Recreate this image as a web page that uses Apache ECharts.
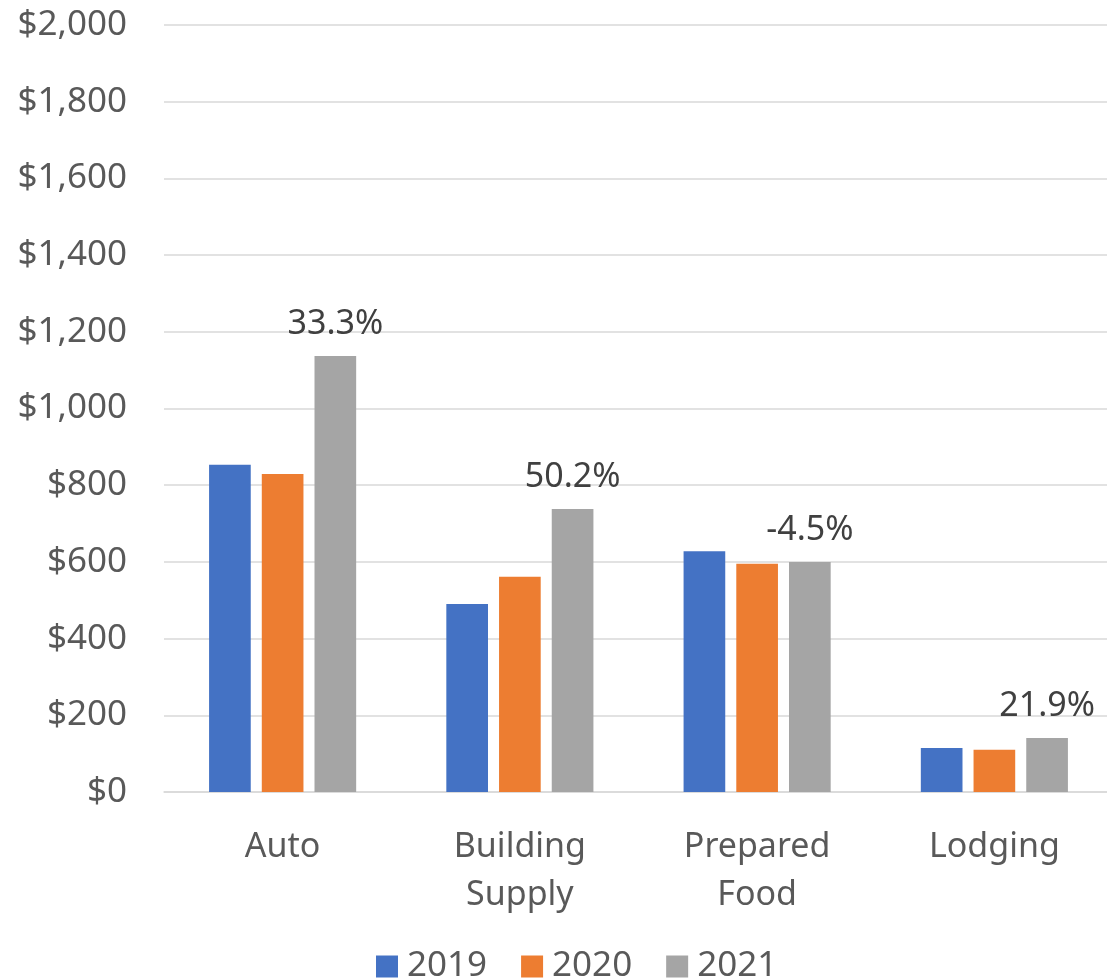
<!DOCTYPE html>
<html><head><meta charset="utf-8">
<script src="https://cdn.jsdelivr.net/npm/echarts@6/dist/echarts.min.js"></script>
<style>html,body{margin:0;padding:0;background:#fff;overflow:hidden}#c{width:1113px;height:980px}</style>
</head><body><div id="c"></div>
<script>
const categories = ['Auto', 'Building\nSupply', 'Prepared\nFood', 'Lodging'];
const years = ['2019', '2020', '2021'];
const values2019 = [853, 490, 628, 115];
const values2020 = [829, 561, 595, 110];
const values2021 = [1137, 738, 600, 141];
const changeLabels = ['33.3%', '50.2%', '-4.5%', '21.9%'];
const yTicks = { min: 0, max: 2000, interval: 200 };
const colors = ['#4472C4', '#ED7D31', '#A5A5A5'];

const FONT = 'Noto Sans';
const chart = echarts.init(document.getElementById('c'), null, { renderer: 'canvas' });
const seriesData = [values2019, values2020, values2021];
chart.setOption({
  animation: false,
  textStyle: { fontFamily: FONT },
  color: colors,
  grid: { left: 164, right: 0, top: 25, bottom: 188 },
  legend: {
    top: 944, left: 371,
    itemWidth: 22, itemHeight: 22, itemGap: 34,
    icon: 'rect',
    textStyle: { fontSize: 35, color: '#595959', fontFamily: FONT, padding: [0, 0, 0, 4] },
    data: years
  },
  xAxis: {
    type: 'category',
    data: categories,
    axisLine: { show: true, lineStyle: { color: '#d9d9d9', width: 1.5 } },
    axisTick: { show: false },
    axisLabel: { fontSize: 34, color: '#595959', margin: 31, lineHeight: 48, fontFamily: FONT }
  },
  yAxis: {
    type: 'value',
    min: yTicks.min, max: yTicks.max, interval: yTicks.interval,
    axisLine: { show: false },
    axisTick: { show: false },
    splitLine: { lineStyle: { color: '#d9d9d9', width: 1.5 } },
    axisLabel: {
      fontSize: 35, color: '#595959', margin: 37, fontFamily: FONT,
      formatter: v => '$' + v.toLocaleString('en-US')
    }
  },
  series: years.map((y, i) => ({
    name: y,
    type: 'bar',
    data: seriesData[i],
    barGap: '26.5%',
    barCategoryGap: '38%',
    label: i === 2 ? {
      show: true, position: 'top', distance: 15,
      fontSize: 34, color: '#404040', fontFamily: FONT,
      formatter: p => changeLabels[p.dataIndex]
    } : { show: false }
  }))
});
</script></body></html>
